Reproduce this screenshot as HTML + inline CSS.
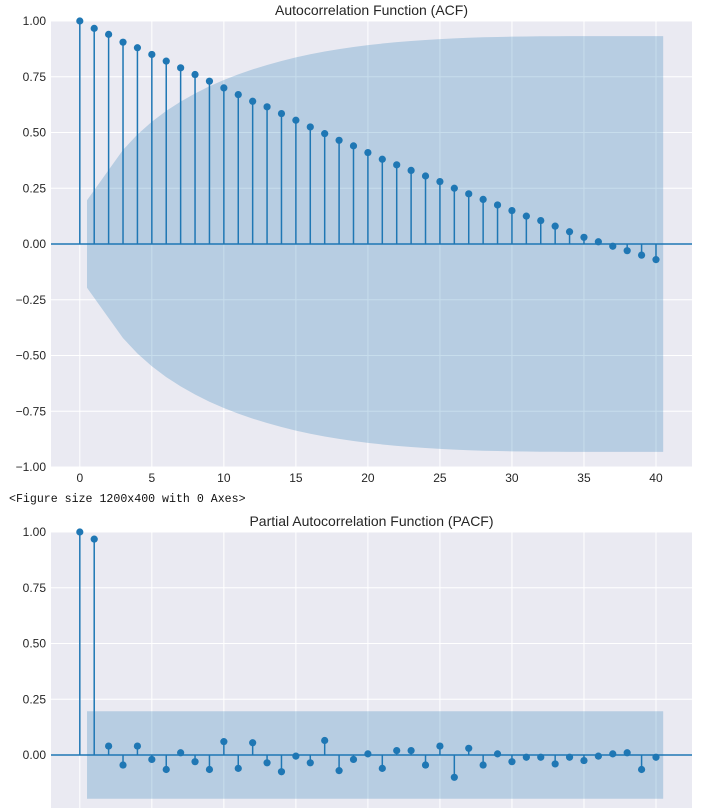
<!DOCTYPE html>
<html><head><meta charset="utf-8"><style>
body{margin:0;background:#fff;width:720px;height:808px;overflow:hidden;font-family:"Liberation Sans",sans-serif}
svg{position:absolute;left:0;top:0}
</style></head><body>
<svg id="c" width="720" height="808" xmlns="http://www.w3.org/2000/svg"></svg>
<script>
const lags = Array.from({length:41},(_,i)=>i);
const acfValues = [1,0.967,0.94,0.905,0.88,0.85,0.82,0.79,0.76,0.73,0.70,0.67,0.64,0.615,0.585,0.555,0.525,0.495,0.465,0.44,0.41,0.38,0.355,0.33,0.305,0.28,0.25,0.225,0.2,0.175,0.15,0.125,0.105,0.08,0.055,0.03,0.01,-0.01,-0.03,-0.05,-0.07];
const pacfValues = [1,0.968,0.04,-0.045,0.04,-0.02,-0.065,0.01,-0.03,-0.065,0.06,-0.06,0.055,-0.035,-0.075,-0.005,-0.035,0.065,-0.07,-0.02,0.005,-0.06,0.02,0.02,-0.045,0.04,-0.1,0.03,-0.045,0.005,-0.03,-0.01,-0.01,-0.04,-0.01,-0.025,-0.005,0.005,0.01,-0.065,-0.01];
const yTicks = [1,0.75,0.5,0.25,0,-0.25,-0.5,-0.75,-1];
const xTicks = [0,5,10,15,20,25,30,35,40];
const nObs = 100;

const svg=document.getElementById('c');
const NS='http://www.w3.org/2000/svg';
function mk(tag,attrs,parent){const e=document.createElementNS(NS,tag);for(const k in attrs)e.setAttribute(k,attrs[k]);(parent||svg).appendChild(e);return e;}

function confBand(vals,isAcf){
  const out=[];let s=0;
  for(let k=1;k<vals.length;k++){
    if(isAcf){ if(k>1) s+=vals[k-1]*vals[k-1]; out.push(1.96/Math.sqrt(nObs)*Math.sqrt(1+2*s)); }
    else out.push(1.96/Math.sqrt(nObs));
  }
  return out;
}

function plot(top,title,vals,isAcf,showX,name){
  const L=51,R=692,H=446;
  const g=mk('g',{});
  
  
  const xs=v=>L+(v+2.0)/(44.5)*(R-L);
  const ys=v=>top+(1-v)/2*H;
  const bottom=Math.min(top+H,808);
  mk('rect',{x:L,y:top,width:R-L,height:bottom-top,fill:'#eaeaf2'},g);
  xTicks.forEach(t=>{mk('line',{x1:xs(t),x2:xs(t),y1:top,y2:bottom,stroke:'#fff','stroke-width':1},g);
    if(showX){const tx=mk('text',{x:xs(t),y:top+H+15,'text-anchor':'middle','font-size':12,fill:'#262626'},g);tx.textContent=t;}});
  yTicks.forEach(t=>{const y=ys(t);if(y>bottom)return;
    mk('line',{x1:L,x2:R,y1:y,y2:y,stroke:'#fff','stroke-width':1},g);
    const tx=mk('text',{x:L-5,y:y+4,'text-anchor':'end','font-size':12,fill:'#262626'},g);tx.textContent=t.toFixed(2).replace('-','\u2212');});
  const tt=mk('text',{x:(L+R)/2,y:top-6,'text-anchor':'middle','font-size':14,fill:'#262626'},g);tt.textContent=title;
  
  const conf=confBand(vals,isAcf);
  let up=[],dn=[];
  for(let k=1;k<vals.length;k++){let x=k;if(k===1)x=0.5;if(k===vals.length-1)x=k+0.5;
    up.push(xs(x)+','+ys(conf[k-1]));dn.unshift(xs(x)+','+ys(-conf[k-1]));}
  const band=mk('polygon',{points:up.concat(dn).join(' '),fill:'#1f77b4','fill-opacity':0.25},g);
  
  mk('line',{x1:L,x2:R,y1:ys(0),y2:ys(0),stroke:'#1f77b4','stroke-width':1.5},g);
  vals.forEach((v,i)=>{
    const s=mk('line',{x1:xs(lags[i]),x2:xs(lags[i]),y1:ys(0),y2:ys(v),stroke:'#1f77b4','stroke-width':1.5},g);
    
    const c=mk('circle',{cx:xs(lags[i]),cy:ys(v),r:3.6,fill:'#1f77b4'},g);
    
  });
}
plot(21,'Autocorrelation Function (ACF)',acfValues,true,true,'acf-chart');
plot(532,'Partial Autocorrelation Function (PACF)',pacfValues,false,false,'pacf-chart');
const ft=mk('text',{x:9,y:502,'font-size':11.6,'font-family':'Liberation Mono, monospace',fill:'#111'});
ft.textContent='<Figure size 1200x400 with 0 Axes>';

</script>
</body></html>
